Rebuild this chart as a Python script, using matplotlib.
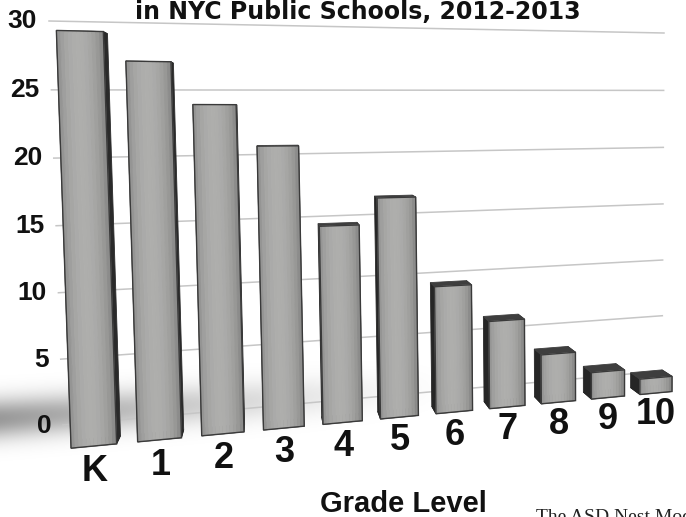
import numpy as np
import matplotlib
matplotlib.use('Agg')
import matplotlib.pyplot as plt
import matplotlib.transforms as mtransforms
from matplotlib.patches import Polygon

# data
grades = ['K', '1', '2', '3', '4', '5', '6', '7', '8', '9', '10']
values = [29, 27, 24, 21, 15, 17, 10, 7, 4, 2.2, 1.3]
y_ticks = [0, 5, 10, 15, 20, 25, 30]
title = 'in NYC Public Schools, 2012-2013'
x_label = 'Grade Level'
source = 'The ASD Nest Model'

W, H = 686, 517


def homography(src, dst):
    A, b = [], []
    for (x, y), (u, v) in zip(src, dst):
        A.append([x, y, 1, 0, 0, 0, -u * x, -u * y]); b.append(u)
        A.append([0, 0, 0, x, y, 1, -v * x, -v * y]); b.append(v)
    h = np.linalg.solve(np.array(A, float), np.array(b, float))
    return np.append(h, 1).reshape(3, 3)


class Persp(mtransforms.Transform):
    # perspective warp of the flat chart plane (grade index, value) -> pixels
    input_dims = output_dims = 2

    def __init__(self, M):
        super().__init__()
        self.M = M

    def transform_non_affine(self, values):
        values = np.asarray(values, float)
        p = np.column_stack([values, np.ones(len(values))]) @ self.M.T
        return p[:, :2] / p[:, 2:3]


fig = plt.figure(figsize=(6.86, 5.17), dpi=100)
ax = fig.add_axes([0, 0, 1, 1])
ax.axis('off')

# floor shadow
yy, xx = np.mgrid[0:H, 0:W]
yc = 418 - 0.07 * xx
alpha = np.exp(-((yy - yc) / 20.0) ** 2) * np.clip(1 - xx / 460, 0, 1) ** 1.3 * 0.4
shadow = np.zeros((H, W, 4))
shadow[..., 3] = alpha
ax.imshow(shadow, extent=(0, W, H, 0), aspect='auto', zorder=0)
ax.set_xlim(0, W)
ax.set_ylim(H, 0)
ax.set_autoscale_on(False)

front = Persp(homography([(0, 0), (0, 29), (10, 0), (10, 29)],
                         [(94, 446), (80, 31), (656, 393), (657, 45)]))
wall = Persp(homography([(0, 0), (0, 30), (1, 0), (1, 30)],
                        [(63, 425), (49, 21), (662, 371), (664, 33)]))
T_front = front + ax.transData
T_wall = wall + ax.transData

# back wall grid + value labels
for t in y_ticks:
    ax.plot([0, 1], [t, t], color='#c6c6c6', lw=1.1, transform=T_wall, zorder=1)
    ax.text(-0.016, t, str(t), transform=T_wall, ha='right', va='center',
            fontsize=19, fontweight='bold', family='Liberation Sans', color='#111111')

# bars
x = np.arange(len(grades))
width = 0.68
vp = np.array([270.0, 120.0])
depth = 0.025
for xi, v in zip(x, values):
    corners = np.array([[xi - width / 2, 0], [xi + width / 2, 0],
                        [xi + width / 2, v], [xi - width / 2, v]])
    fr = front.transform(corners)
    bk = vp + (fr - vp) * (1 - depth)
    top_vis = bk[2, 1] < fr[2, 1]
    left_vis = bk[3, 0] < fr[3, 0]
    faces = [((0, 1), False, '#1e1e1e'),
             ((1, 2), not left_vis, '#2a2a2a'),
             ((3, 0), left_vis, '#262626'),
             ((2, 3), top_vis, '#3e3e3e')]
    faces.sort(key=lambda f: f[1])
    for (a, b), vis, col in faces:
        quad = [fr[a], fr[b], bk[b], bk[a]]
        ax.add_patch(Polygon(quad, closed=True, facecolor=col,
                             edgecolor=col, lw=0.6, zorder=2))

n_strip = 12
for k in range(n_strip):
    t = (k + 0.5) / n_strip
    g = 0.54 + 0.16 * np.sin(np.pi * t) ** 0.6 - 0.04 * t
    col = (g, g, g * 0.99)
    bars = ax.bar(x - width / 2 + (k + 0.5) * width / n_strip, values,
                  width / n_strip, color=col, edgecolor=col, lw=0.6, zorder=3)
    for p in bars:
        p.set_transform(T_front)

outline = ax.bar(x, values, width, fill=False, edgecolor='#3a3a3a', lw=1.0, zorder=4)
for p in outline:
    p.set_transform(T_front)

for xi, g in zip(x, grades):
    ax.text(xi, -1.85, g, transform=T_front, ha='center', va='center',
            fontsize=26, fontweight='bold', family='Liberation Sans', color='#111111')

ax.text(403, 512, x_label, ha='center', va='baseline', fontsize=21,
        fontweight='bold', family='Liberation Sans', color='#111111')
ax.text(358, 19, title, ha='center', va='baseline', fontsize=17,
        fontweight='bold', family='DejaVu Sans', color='#111111')
ax.text(536, 509, source, ha='left', va='top', fontsize=14,
        family='Liberation Serif', color='#222222')

fig.savefig('out.png', dpi=100)
